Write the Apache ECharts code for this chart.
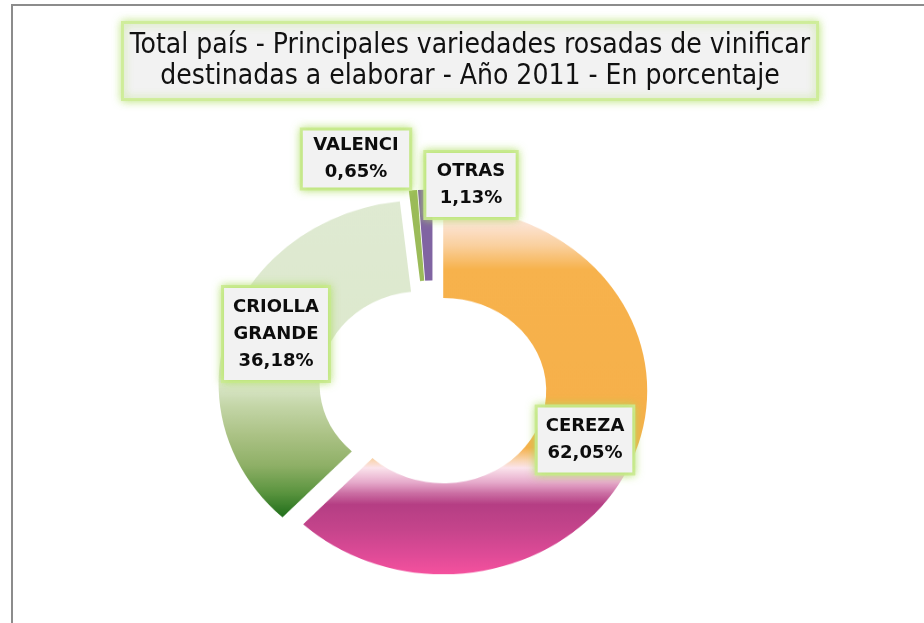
<!DOCTYPE html>
<html><head><meta charset="utf-8">
<script src="https://cdn.jsdelivr.net/npm/echarts@6/dist/echarts.min.js"></script>
<style>
html,body{margin:0;padding:0;background:#fff;}
#wrap{position:relative;width:924px;height:623px;overflow:hidden;}
#pie,#over{position:absolute;left:0;top:0;width:924px;height:623px;}
#pie{transform:scaleY(0.9);transform-origin:0 387px;}
</style></head><body>
<div id="wrap"><div id="pie"></div><div id="over"></div></div>
<script>
// ---- data ----
const titleText = 'Total país - Principales variedades rosadas de vinificar\ndestinadas a elaborar - Año 2011 - En porcentaje';
const categories = ['CEREZA', 'CRIOLLA GRANDE', 'VALENCI', 'OTRAS'];
const values = [62.05, 36.18, 0.65, 1.13];

// ---- style / layout ----
const G = echarts.graphic.LinearGradient;
const sliceColors = [
  new G(0, 0, 0, 1, [
    {offset: 0.00, color: '#fde2e6'}, {offset: 0.05, color: '#fce2d0'},
    {offset: 0.105, color: '#fad09e'}, {offset: 0.17, color: '#f7b24c'},
    {offset: 0.655, color: '#f6b04a'}, {offset: 0.69, color: '#f9d6b4'},
    {offset: 0.71, color: '#fbe4ec'}, {offset: 0.75, color: '#e6aacb'},
    {offset: 0.78, color: '#cb6ea3'}, {offset: 0.81, color: '#b53e84'},
    {offset: 0.875, color: '#c4448b'}, {offset: 0.94, color: '#dc4a96'},
    {offset: 1.00, color: '#f5519e'}
  ]),
  new G(0, 0, 0, 1, [
    {offset: 0.00, color: '#dfead2'}, {offset: 0.576, color: '#dce8cc'},
    {offset: 0.646, color: '#c4d6a8'}, {offset: 0.74, color: '#abc285'},
    {offset: 0.835, color: '#8fb067'}, {offset: 0.92, color: '#5c9540'},
    {offset: 1.00, color: '#1f6e1a'}
  ]),
  '#9bbb59',
  '#8064a2'
];
const groupOf = [0, 0, 1, 1];          // which explosion group each slice uses
const groupOffset = [11, 15.5];
const center = [433, 387];
const radius = [103, 204];
const labelCenter = [[585, 440], [276, 334], [356, 159], [471, 185]];
const labelPadH = [8, 9, 10.5, 10.5];
const labelPadV = [5.5, 5.5, 1.5, 5];

const fmt = v => v.toFixed(2).replace('.', ',') + '%';
const transparent = 'rgba(0,0,0,0)';

const pieChart = echarts.init(document.getElementById('pie'), null, {renderer: 'canvas'});
const pieSeries = groupOffset.map((off, g) => ({
  type: 'pie',
  center: center,
  radius: radius,
  startAngle: 90,
  clockwise: true,
  selectedMode: 'multiple',
  selectedOffset: off,
  silent: true,
  animation: false,
  label: {show: false},
  labelLine: {show: false},
  emphasis: {disabled: true},
  data: categories.map((name, i) => ({
    name: name,
    value: values[i],
    selected: groupOf[i] === g,
    itemStyle: {color: groupOf[i] === g ? sliceColors[i] : transparent, borderWidth: 0}
  }))
}));
pieChart.setOption({animation: false, series: pieSeries});

const over = echarts.init(document.getElementById('over'), null, {renderer: 'canvas'});
over.setOption({
  animation: false,
  title: {
    text: titleText,
    left: 463, top: 22,
    textAlign: 'center',
    padding: [8, 7, 8, 7],
    backgroundColor: '#f2f2f2',
    borderColor: 'rgba(205,236,150,0.9)', borderWidth: 3,
    shadowBlur: 8, shadowColor: 'rgba(175,222,100,0.8)',
    textStyle: {
      fontFamily: '"Liberation Sans Narrow", "DejaVu Sans Condensed", sans-serif',
      fontSize: 28, fontWeight: 'normal', color: '#111',
      lineHeight: 31, width: 682
    }
  },
  graphic: [{
    type: 'rect', silent: true,
    shape: {x: 12, y: 5, width: 1000, height: 700},
    style: {fill: 'none', stroke: '#8c8c8c', lineWidth: 2}
  }],
  series: [{
    type: 'pie',
    center: center,
    radius: radius,
    startAngle: 90,
    silent: true,
    itemStyle: {color: transparent},
    emphasis: {disabled: true},
    labelLine: {show: false},
    label: {
      show: true,
      position: 'inside',
      fontFamily: '"DejaVu Sans", sans-serif',
      fontSize: 18, fontWeight: 'bold', color: '#0d0d0d',
      lineHeight: 27, align: 'center',
      backgroundColor: '#f2f2f2',
      borderColor: 'rgba(205,236,150,0.9)', borderWidth: 3,
      shadowBlur: 8, shadowColor: 'rgba(175,222,100,0.8)',
      formatter: p => p.name.replace(' ', '\n') + '\n' + fmt(p.value)
    },
    labelLayout: p => ({
      x: labelCenter[p.dataIndex][0],
      y: labelCenter[p.dataIndex][1],
      align: 'center', verticalAlign: 'middle'
    }),
    data: categories.map((name, i) => ({
      name: name, value: values[i],
      label: {
        padding: [labelPadV[i], labelPadH[i], labelPadV[i], labelPadH[i]]
      }
    }))
  }]
});
</script>
</body></html>
